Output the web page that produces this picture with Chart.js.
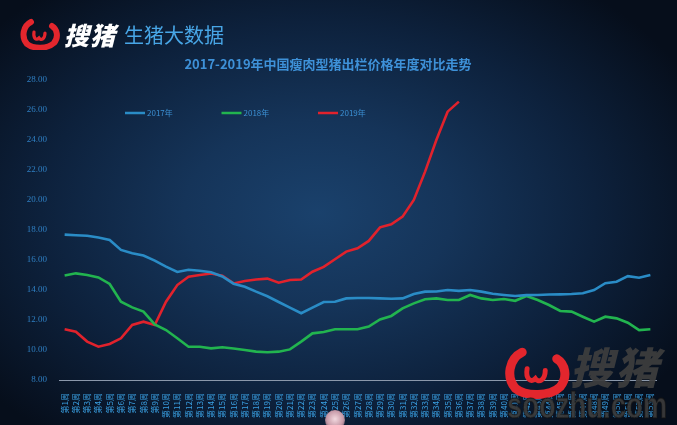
<!DOCTYPE html>
<html>
<head>
<meta charset="utf-8">
<script src="https://cdn.jsdelivr.net/npm/chart.js@4/dist/chart.umd.min.js"></script>
<style>
  html, body { margin: 0; padding: 0; }
  body {
    width: 677px; height: 425px; overflow: hidden; position: relative;
    background: radial-gradient(ellipse 62% 68% at 47% 50%, #1a416c 0%, #153459 32%, #0d213c 66%, #060e1b 100%);
    font-family: "Noto Sans CJK SC", "Noto Sans", sans-serif;
  }
  #chart { position: absolute; left: 0; top: 0; }
  .brand { position: absolute; left: 20px; top: 16px; display: flex; align-items: center; }
  .brand .name { color: #ffffff; font-size: 25px; font-weight: 900; font-style: italic; letter-spacing: 1px; margin-left: 4px; }
  .brand .sub { color: #48a6e6; font-size: 20px; margin-left: 8px; }
  .mark { position: absolute; left: 500px; top: 338px; width: 177px; height: 87px; }
  .mark .logo { position: absolute; left: 4px; top: 2px; }
  .mark .name { position: absolute; left: 70px; top: -4px; color: rgba(62,62,62,0.92); font-size: 43px; font-weight: 900; font-style: italic; letter-spacing: 2px; }
  .mark .site { position: absolute; left: 7px; top: 58px; line-height: 28px; white-space: nowrap;
    color: rgba(58,58,58,0.95); font: bold 28px/28px "Liberation Sans", Arial, sans-serif;
    -webkit-text-stroke: 1px rgba(20,20,20,0.6);
    transform: scale(0.98, 1.3); transform-origin: left bottom; }
  .dot { position: absolute; left: 325px; top: 410px; width: 20px; height: 20px; border-radius: 50%;
    background: radial-gradient(circle at 50% 45%, #f3d9df 0%, #c79aa8 55%, rgba(120,80,100,0.3) 100%); }
</style>
</head>
<body>
<canvas id="chart" width="677" height="425"></canvas>

<div class="brand">
  <svg width="40" height="32" viewBox="0 0 40 32">
    <path d="M11 4 C3 8 1 19 7 26 C13 31 28 31 34 25 C39 19 37 11 32 8" fill="none" stroke="#e3262d" stroke-width="6" stroke-linecap="round"/>
    <path d="M14 14 C13 20 16 23 19 20 C21 23 25 21 25 15" fill="none" stroke="#e3262d" stroke-width="3.2" stroke-linecap="round"/>
  </svg>
  <span class="name">搜猪</span>
  <span class="sub">生猪大数据</span>
</div>

<div class="mark">
  <svg class="logo" width="66" height="64" viewBox="0 0 40 32">
    <path d="M11 4 C3 8 1 19 7 26 C13 31 28 31 34 25 C39 19 37 11 32 8" fill="none" stroke="#e3262d" stroke-width="5.5" stroke-linecap="round"/>
    <path d="M14 14 C13 20 16 23 19 20 C21 23 25 21 25 15" fill="none" stroke="#e3262d" stroke-width="3" stroke-linecap="round"/>
  </svg>
  <span class="name">搜猪</span>
  <span class="site">soozhu.com</span>
</div>
<div class="dot"></div>

<script>
// Weekly lean-hog price (元/公斤), weeks 1-53
const weeks = Array.from({ length: 53 }, (_, i) => '第' + (i + 1) + '周');

const seriesNames = ['2017年', '2018年', '2019年'];
const seriesColors = ['#2a8cc6', '#22b44f', '#e1222c'];

const price2017 = [
  17.69, 17.65, 17.62, 17.50, 17.33, 16.67, 16.45, 16.30, 15.96, 15.56,
  15.20, 15.35, 15.28, 15.18, 14.90, 14.42, 14.22, 13.89, 13.58, 13.20,
  12.82, 12.45, 12.82, 13.20, 13.22, 13.44, 13.47, 13.47, 13.44, 13.42,
  13.44, 13.73, 13.89, 13.90, 14.00, 13.94, 14.00, 13.89, 13.75, 13.67,
  13.60, 13.66, 13.67, 13.70, 13.71, 13.73, 13.78, 14.00, 14.45, 14.55,
  14.92, 14.82, 15.00
];

const price2018 = [
  14.96, 15.11, 15.00, 14.84, 14.40, 13.22, 12.84, 12.56, 11.71, 11.33,
  10.78, 10.22, 10.22, 10.11, 10.18, 10.10, 10.00, 9.89, 9.85, 9.89,
  10.04, 10.56, 11.11, 11.20, 11.38, 11.38, 11.38, 11.56, 12.04, 12.27,
  12.78, 13.11, 13.38, 13.44, 13.33, 13.33, 13.67, 13.44, 13.33, 13.40,
  13.28, 13.60, 13.33, 13.00, 12.60, 12.56, 12.22, 11.89, 12.22, 12.11,
  11.82, 11.33, 11.38
];

const price2019 = [
  11.38, 11.22, 10.56, 10.22, 10.40, 10.78, 11.67, 11.89, 11.67, 13.22,
  14.33, 14.89, 15.00, 15.10, 14.95, 14.44, 14.60, 14.70, 14.76, 14.49,
  14.67, 14.70, 15.22, 15.54, 16.05, 16.56, 16.78, 17.27, 18.18, 18.38,
  18.89, 20.00, 21.89, 24.00, 25.89, 26.56
];

const yMin = 8, yMax = 28, yStep = 2;

// Legend row drawn inside the plot, one entry per dataset
const inlineLegend = {
  id: 'inlineLegend',
  afterDatasetsDraw(chart) {
    const { ctx, chartArea } = chart;
    const y = chartArea.top + 33;
    let x = chartArea.left + 66;
    ctx.save();
    ctx.font = '8px "Noto Sans CJK SC", sans-serif';
    ctx.textBaseline = 'middle';
    chart.data.datasets.forEach(ds => {
      ctx.strokeStyle = ds.borderColor;
      ctx.lineWidth = 2.5;
      ctx.beginPath();
      ctx.moveTo(x, y);
      ctx.lineTo(x + 20, y);
      ctx.stroke();
      ctx.fillStyle = '#3b8fd2';
      ctx.fillText(ds.label, x + 22, y);
      x += 96.5;
    });
    ctx.restore();
  }
};

new Chart(document.getElementById('chart'), {
  type: 'line',
  data: {
    labels: weeks,
    datasets: [price2017, price2018, price2019].map((d, i) => ({
      label: seriesNames[i],
      data: d,
      borderColor: seriesColors[i],
      backgroundColor: seriesColors[i],
      borderWidth: 2.6,
      pointRadius: 0,
      tension: 0,
      fill: false
    }))
  },
  options: {
    responsive: false,
    animation: false,
    layout: { padding: { top: 52, right: 21, left: 0, bottom: 0 } },
    plugins: {
      legend: { display: false },
      tooltip: { enabled: false },
      title: {
        display: true,
        text: '2017-2019年中国瘦肉型猪出栏价格年度对比走势',
        color: '#3e91d8',
        font: { family: '"Noto Sans CJK SC", sans-serif', size: 13, weight: 'bold', lineHeight: 1.2 },
        padding: { top: 4, bottom: 8.4 }
      }
    },
    scales: {
      x: {
        offset: true,
        grid: { display: false },
        border: { display: true, color: '#8b98ab', width: 1 },
        ticks: {
          autoSkip: false,
          maxRotation: 90,
          minRotation: 90,
          padding: 5,
          color: '#3aa0e2',
          font: { family: '"Noto Sans CJK SC", sans-serif', size: 8 }
        },
        afterFit(scale) { scale.height = 45; }
      },
      y: {
        min: yMin,
        max: yMax,
        grid: { display: false },
        border: { display: false },
        ticks: {
          stepSize: yStep,
          padding: 4,
          color: '#2f7fc2',
          font: { family: '"Liberation Serif", serif', size: 9 },
          callback: v => Number(v).toFixed(2)
        },
        afterFit(scale) { scale.width = 59; }
      }
    }
  },
  plugins: [inlineLegend]
});
</script>
</body>
</html>
